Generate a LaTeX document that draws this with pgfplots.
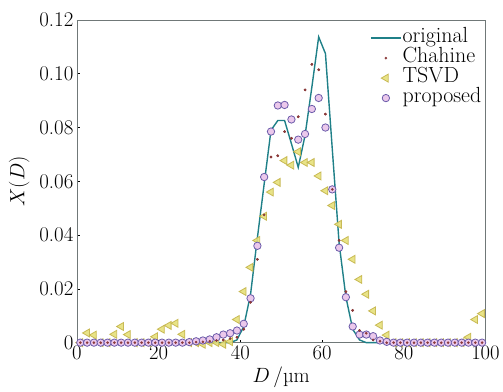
\documentclass[border=0pt]{standalone}
\usepackage{fontspec}
\usepackage{pgfplots}
\usepackage{pgfplotstable}
\pgfplotsset{compat=1.18}
\definecolor{origc}{HTML}{1F8088}
\definecolor{chahc}{HTML}{8B3A3A}
\definecolor{tsvdf}{HTML}{E6E07A}
\definecolor{tsvdd}{HTML}{C4B44A}
\definecolor{propf}{HTML}{EBC8EB}
\definecolor{propd}{HTML}{6B5BAA}
\definecolor{axc}{HTML}{707878}

\pgfplotstableread{
x orig chah tsvd prop
0.83 0 0 0 0
2.50 0 0 0.0036 0
4.17 0 0 0.0028 0
5.83 0 0 0 0
7.50 0 0 0 0
9.17 0 0 0.0031 0
10.83 0 0 0.0060 0
12.50 0 0 0.0030 0
14.17 0 0 0 0
15.83 0 0 0 0
17.50 0 0 0 0
19.17 0 0 0.0022 0
20.83 0 0 0.0050 0
22.50 0 0 0.0064 0
24.17 0 0 0.0072 0
25.83 0 0 0.0031 0
27.50 0 0 0 0.0002
29.17 0 0.0002 0 0.0005
30.83 0 0.0003 -0.0006 0.0008
32.50 0 0.0005 0 0.0012
34.17 0 0.0008 0 0.0020
35.83 0 0.0010 -0.0006 0.0030
37.50 0 0.0015 0.0004 0.0035
39.17 0.001 0.0020 0.0086 0.0045
40.83 0.006 0.0050 0.0190 0.0070
42.50 0.018 0.0150 0.0280 0.0165
44.17 0.039 0.0310 0.0380 0.0360
45.83 0.059 0.0475 0.0470 0.0616
47.50 0.079 0.0690 0.0560 0.0785
49.17 0.0826 0.0695 0.0596 0.0882
50.83 0.0826 0.0785 0.0677 0.0884
52.50 0.074 0.0760 0.0660 0.0830
54.17 0.0652 0.0840 0.0710 0.0755
55.83 0.077 0.0940 0.0670 0.0776
57.50 0.095 0.1035 0.0670 0.0869
59.17 0.1137 0.1015 0.0620 0.0910
60.83 0.1075 0.0850 0.0565 0.0800
62.50 0.072 0.0570 0.0510 0.0570
64.17 0.037 0.0380 0.0440 0.0353
65.83 0.017 0.0190 0.0380 0.0169
67.50 0.005 0.0120 0.0310 0.0060
69.17 0.001 0.0045 0.0235 0.0030
70.83 0 0.0035 0.0180 0.0030
72.50 0 0.0010 0.0118 0.0024
74.17 0 0.0005 0.0065 0.0008
75.83 0 0 0.0028 0.0003
77.50 0 0 0 0
79.17 0 0 0 0
80.83 0 0 0 0
82.50 0 0 0 0
84.17 0 0 0 0
85.83 0 0 0 0
87.50 0 0 0 0
89.17 0 0 0 0
90.83 0 0 0 0
92.50 0 0 0 0
94.17 0 0 0 0
95.83 0 0 0.0020 0
97.50 0 0 0.0086 0
99.17 0 0 0.0108 0
}\data

\begin{document}
\begin{tikzpicture}
\begin{axis}[
  scale only axis,
  width=409bp, height=323bp,
  xmin=0, xmax=100, ymin=0, ymax=0.12,
  xtick={0,20,40,60,80,100},
  ytick={0,0.02,0.04,0.06,0.08,0.10,0.12},
  yticklabels={0,0.02,0.04,0.06,0.08,0.10,0.12},
  xtick pos=left, ytick pos=left,
  tick align=inside,
  major tick length=3bp,
  axis line style={axc, line width=0.8bp},
  tick style={black, line width=0.6bp},
  every tick label/.append style={font=\fontsize{21}{23}\selectfont},
  label style={font=\fontsize{21}{23}\selectfont},
  xlabel={$D$\,/µm},
  ylabel={$X(D)$},
  xlabel style={yshift=-1bp},
  ylabel style={yshift=3bp},
  clip=false,
  legend cell align=left,
  legend style={draw=none, fill=none, at={(1,1)}, anchor=north east,
    xshift=0bp, yshift=-6bp,
    font=\fontsize{22}{22}\selectfont, row sep=0bp,
    nodes={inner sep=1bp, text height=13bp, text depth=5bp}},
  legend image code/.code={\draw[mark repeat=2,mark phase=2,#1] plot coordinates {(0bp,0bp) (15bp,0bp) (30bp,0bp)};},
]
\addplot[origc, line width=1.4bp, no markers] table[x=x, y=orig] {\data};
\addlegendentry{original}
\addplot[only marks, mark=*, mark size=1.1bp, color=chahc] table[x=x, y=chah] {\data};
\addlegendentry{Chahine}
\addplot[only marks, mark=triangle*, mark size=4.6bp, mark options={rotate=90, fill=tsvdf, draw=tsvdd, line width=0.8bp, opacity=0.9}] table[x=x, y=tsvd] {\data};
\addlegendentry{TSVD}
\addplot[only marks, mark=*, mark size=3.7bp, mark options={fill=propf, draw=propd, line width=0.8bp}] table[x=x, y=prop] {\data};
\addlegendentry{proposed}
\addplot[only marks, mark=*, mark size=1.1bp, color=chahc, forget plot] table[x=x, y=chah] {\data};
\end{axis}
\path ([xshift=-77bp,yshift=-46bp]current axis.south west) ([xshift=17bp,yshift=20bp]current axis.north east);
\end{tikzpicture}
\end{document}
